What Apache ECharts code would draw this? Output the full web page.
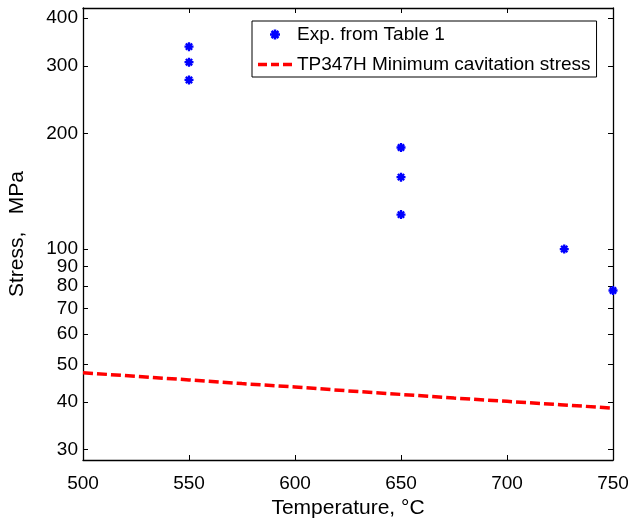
<!DOCTYPE html>
<html>
<head>
<meta charset="utf-8">
<script src="https://cdn.jsdelivr.net/npm/echarts@6/dist/echarts.min.js"></script>
<style>html,body{margin:0;padding:0;background:#fff;}#c{width:628px;height:521px;}</style>
</head>
<body>
<div id="c"></div>
<script>
// Experimental points (temperature °C, stress MPa)
const expTemps = [550, 550, 550, 650, 650, 650, 727, 750];
const expStress = [337, 307, 276, 184, 154, 123, 100, 78];
// Minimum cavitation stress curve
const curveTemps = [500, 525, 550, 575, 600, 625, 650, 675, 700, 725, 750];
const curveStress = [47.6, 46.6, 45.6, 44.6, 43.7, 42.7, 41.8, 40.9, 40.1, 39.3, 38.5];
// Tick labels
const xTicks = [500, 550, 600, 650, 700, 750];
const yTicks = [30, 40, 50, 60, 70, 80, 90, 100, 200, 300, 400];
const seriesNames = ['Exp. from Table 1', 'TP347H Minimum cavitation stress'];

const FONT = 'Liberation Sans, Arial, Helvetica, sans-serif';
const star = 'path://M-1.3,-5L1.3,-5L1.3,5L-1.3,5Z M-5,-1.3L5,-1.3L5,1.3L-5,1.3Z M-4.4,-2.6L-2.6,-4.4L4.4,2.6L2.6,4.4Z M2.6,-4.4L4.4,-2.6L-2.6,4.4L-4.4,2.6Z';
const dashIcon = 'path://M0,0L9,0L9,3.4L0,3.4Z M13,0L21,0L21,3.4L13,3.4Z M25,0L34,0L34,3.4L25,3.4Z';

const chart = echarts.init(document.getElementById('c'), null, {renderer: 'canvas'});
const axisLineStyle = {color: '#000', width: 1.3};
const tickStyle = {color: '#000', width: 1};
const yMin = 28.2, yMax = 425;
chart.setOption({
  animation: false,
  backgroundColor: '#fff',
  grid: {left: 83, right: 15, top: 8, bottom: 61, containLabel: false, outerBoundsMode: 'none'},
  legend: {
    orient: 'vertical',
    left: 252, top: 21,
    padding: [4, 6, 3, 6],
    itemWidth: 34, itemHeight: 10, itemGap: 11,
    borderColor: '#000', borderWidth: 1, backgroundColor: '#fff',
    textStyle: {fontFamily: FONT, fontSize: 19, color: '#000'},
    data: [{name: seriesNames[0], icon: star}, {name: seriesNames[1], icon: dashIcon}]
  },
  xAxis: [{
    type: 'value', min: 500, max: 750, interval: 50,
    name: 'Temperature, °C', nameLocation: 'middle', nameGap: 37,
    nameTextStyle: {fontFamily: FONT, fontSize: 21, color: '#000'},
    axisLine: {show: true, lineStyle: axisLineStyle},
    axisTick: {show: true, inside: true, length: 5, lineStyle: tickStyle, customValues: xTicks},
    axisLabel: {fontFamily: FONT, fontSize: 19, color: '#000', margin: 14, customValues: xTicks},
    splitLine: {show: false}
  }, {
    type: 'value', min: 500, max: 750, interval: 50, position: 'top',
    axisLine: {show: true, lineStyle: axisLineStyle},
    axisTick: {show: true, inside: true, length: 5, lineStyle: tickStyle},
    axisLabel: {show: false}, splitLine: {show: false}
  }],
  yAxis: [{
    type: 'log', logBase: 10, min: yMin, max: yMax,
    name: 'Stress,   MPa', nameLocation: 'middle', nameGap: 55,
    nameTextStyle: {fontFamily: FONT, fontSize: 21, color: '#000'},
    axisLine: {show: true, lineStyle: axisLineStyle},
    axisTick: {show: true, inside: true, length: 5, lineStyle: tickStyle, customValues: yTicks},
    axisLabel: {fontFamily: FONT, fontSize: 19, color: '#000', margin: 5, customValues: yTicks},
    splitLine: {show: false}, minorTick: {show: false}
  }, {
    type: 'log', logBase: 10, min: yMin, max: yMax, position: 'right',
    axisLine: {show: true, lineStyle: axisLineStyle},
    axisTick: {show: true, inside: true, length: 5, lineStyle: tickStyle, customValues: yTicks},
    axisLabel: {show: false, customValues: yTicks},
    splitLine: {show: false}
  }],
  series: [{
    name: seriesNames[0], type: 'scatter',
    symbol: star, symbolSize: 9,
    itemStyle: {color: '#0000ff', opacity: 1},
    data: expTemps.map((t, i) => [t, expStress[i]])
  }, {
    name: seriesNames[1], type: 'line',
    showSymbol: false, symbol: 'none', smooth: false,
    lineStyle: {color: '#ff0000', width: 3.5, type: [10, 4]},
    itemStyle: {color: '#ff0000'},
    data: curveTemps.map((t, i) => [t, curveStress[i]])
  }]
});
</script>
</body>
</html>
